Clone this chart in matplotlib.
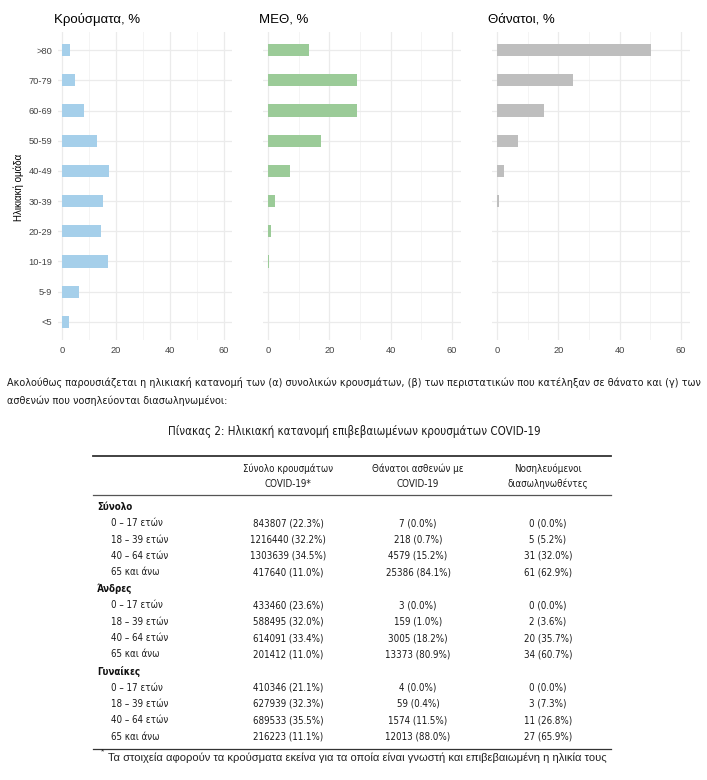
import numpy as np
import matplotlib
matplotlib.use("Agg")
import matplotlib.pyplot as plt
from matplotlib import font_manager

W, H = 707, 780

# ---- chart data ----
age_groups = ['<5', '5-9', '10-19', '20-29', '30-39', '40-49', '50-59', '60-69', '70-79', '>80']
cases_pct = [2.5, 6.2, 16.9, 14.3, 15.2, 17.4, 12.8, 8.0, 4.8, 3.1]
icu_pct = [0.1, 0.05, 0.2, 0.9, 2.3, 7.2, 17.3, 29.0, 29.0, 13.5]
deaths_pct = [0.0, 0.0, 0.0, 0.1, 0.6, 2.3, 6.7, 15.2, 24.9, 50.1]
panel_titles = ['Κρούσματα, %', 'ΜΕΘ, %', 'Θάνατοι, %']
bar_colors = ['#a5cfea', '#9bcb98', '#bebebe']

# ---- table data ----
intro_lines = [
    'Ακολούθως παρουσιάζεται η ηλικιακή κατανομή των (α) συνολικών κρουσμάτων, (β) των περιστατικών που κατέληξαν σε θάνατο και (γ) των',
    'ασθενών που νοσηλεύονται διασωληνωμένοι:',
]
table_title = 'Πίνακας 2: Ηλικιακή κατανομή επιβεβαιωμένων κρουσμάτων COVID-19'
col_headers = [('Σύνολο κρουσμάτων', 'COVID-19*'),
               ('Θάνατοι ασθενών με', 'COVID-19'),
               ('Νοσηλευόμενοι', 'διασωληνωθέντες')]
groups = ['Σύνολο', 'Άνδρες', 'Γυναίκες']
age_rows = ['0 – 17 ετών', '18 – 39 ετών', '40 – 64 ετών', '65 και άνω']
total_cases = [['843807 (22.3%)', '1216440 (32.2%)', '1303639 (34.5%)', '417640 (11.0%)'],
               ['433460 (23.6%)', '588495 (32.0%)', '614091 (33.4%)', '201412 (11.0%)'],
               ['410346 (21.1%)', '627939 (32.3%)', '689533 (35.5%)', '216223 (11.1%)']]
total_deaths = [['7 (0.0%)', '218 (0.7%)', '4579 (15.2%)', '25386 (84.1%)'],
                ['3 (0.0%)', '159 (1.0%)', '3005 (18.2%)', '13373 (80.9%)'],
                ['4 (0.0%)', '59 (0.4%)', '1574 (11.5%)', '12013 (88.0%)']]
intubated = [['0 (0.0%)', '5 (5.2%)', '31 (32.0%)', '61 (62.9%)'],
             ['0 (0.0%)', '2 (3.6%)', '20 (35.7%)', '34 (60.7%)'],
             ['0 (0.0%)', '3 (7.3%)', '11 (26.8%)', '27 (65.9%)']]
footnote = 'Τα στοιχεία αφορούν τα κρούσματα εκείνα για τα οποία είναι γνωστή και επιβεβαιωμένη η ηλικία τους'

plt.rcParams['font.family'] = ['Liberation Sans', 'DejaVu Sans']

# narrow font for the document text: DejaVu Sans Condensed if present
fp = font_manager.FontProperties(family='DejaVu Sans', stretch='condensed')
if 'Condensed' in font_manager.findfont(fp, fallback_to_default=False):
    TXT = dict(family='DejaVu Sans', fontstretch='condensed')
    k = 1.0
else:
    TXT = dict(family='Liberation Sans')
    k = 0.94
body_size = 7.74 * k
tab_size = 7.05 * k
title_size = 8.3 * k

fig = plt.figure(figsize=(W / 100, H / 100), dpi=100)

# overlay axes in pixel coordinates for all free text
tx = fig.add_axes([0, 0, 1, 1], zorder=5)
tx.set_xlim(0, W)
tx.set_ylim(H, 0)
tx.axis('off')
tx.patch.set_alpha(0)


def px_axes(left, top, right, bottom):
    return fig.add_axes([left / W, 1 - bottom / H, (right - left) / W, (bottom - top) / H])


# x pixel of value 0 and px per unit for each panel
panel_x0 = [62, 268, 497]
panel_scale = [2.7, 3.067, 3.067]
xlo, xhi = -1.5, 63
ytop, ybot = 32, 340
series = [cases_pct, icu_pct, deaths_pct]
pos = np.arange(1, len(age_groups) + 1)

for i in range(3):
    left = panel_x0[i] + xlo * panel_scale[i]
    right = panel_x0[i] + xhi * panel_scale[i]
    ax = px_axes(left, ytop, right, ybot)
    ax.barh(pos, series[i], height=0.4, color=bar_colors[i], zorder=3)
    ax.set_xlim(xlo, xhi)
    ax.set_ylim(0.4, 10.6)
    ax.set_xticks([0, 20, 40, 60])
    ax.set_xticks([10, 30, 50], minor=True)
    ax.set_yticks(pos)
    if i == 0:
        ax.set_yticklabels(age_groups)
    else:
        ax.set_yticklabels([])
    ax.grid(which='major', color='#ebebeb', lw=0.9)
    ax.grid(which='minor', axis='x', color='#f2f2f2', lw=0.6)
    ax.set_axisbelow(True)
    for s in ax.spines.values():
        s.set_visible(False)
    ax.tick_params(which='both', length=0, labelsize=6.7, labelcolor='#444444', pad=4)
    tx.text(left - 4, 23, panel_titles[i], fontsize=9.5, ha='left', va='baseline', color='black')

tx.text(19, 187, 'Ηλικιακή ομάδα', rotation=90, fontsize=7, ha='center', va='center')

# ---- text block ----
tx.text(7, 383, intro_lines[0], fontsize=body_size, va='center', ha='left', color='#1a1a1a', **TXT)
tx.text(7, 401, intro_lines[1], fontsize=body_size, va='center', ha='left', color='#1a1a1a', **TXT)
tx.text(354, 431, table_title, fontsize=title_size, va='center', ha='center', color='#1a1a1a', **TXT)

# ---- table ----
t_left, t_right = 93, 611
col_x = [288, 418, 548]
tx.plot([t_left, t_right], [456, 456], color='#333333', lw=1.3)
tx.plot([t_left, t_right], [495, 495], color='#555555', lw=0.9)
tx.plot([t_left, t_right], [749, 749], color='#333333', lw=0.9)
for j, (h1, h2) in enumerate(col_headers):
    tx.text(col_x[j], 469, h1, fontsize=tab_size, ha='center', va='center', color='#1a1a1a', **TXT)
    tx.text(col_x[j], 484, h2, fontsize=tab_size, ha='center', va='center', color='#1a1a1a', **TXT)

y = 507
for g, name in enumerate(groups):
    tx.text(97, y, name, fontsize=tab_size, weight='bold', ha='left', va='center', color='#111111', **TXT)
    for r, lab in enumerate(age_rows):
        y += 16.3
        tx.text(111, y, lab, fontsize=tab_size, ha='left', va='center', color='#1a1a1a', **TXT)
        for j, col in enumerate([total_cases, total_deaths, intubated]):
            tx.text(col_x[j], y, col[g][r], fontsize=tab_size, ha='center', va='center',
                    color='#1a1a1a', **TXT)
    y += 17

tx.text(101, 752, '*', fontsize=6, ha='left', va='center', color='#222222')
tx.text(108, 758, footnote, fontsize=8.05, ha='left', va='center', color='#222222')

fig.savefig('out.png', dpi=100)
